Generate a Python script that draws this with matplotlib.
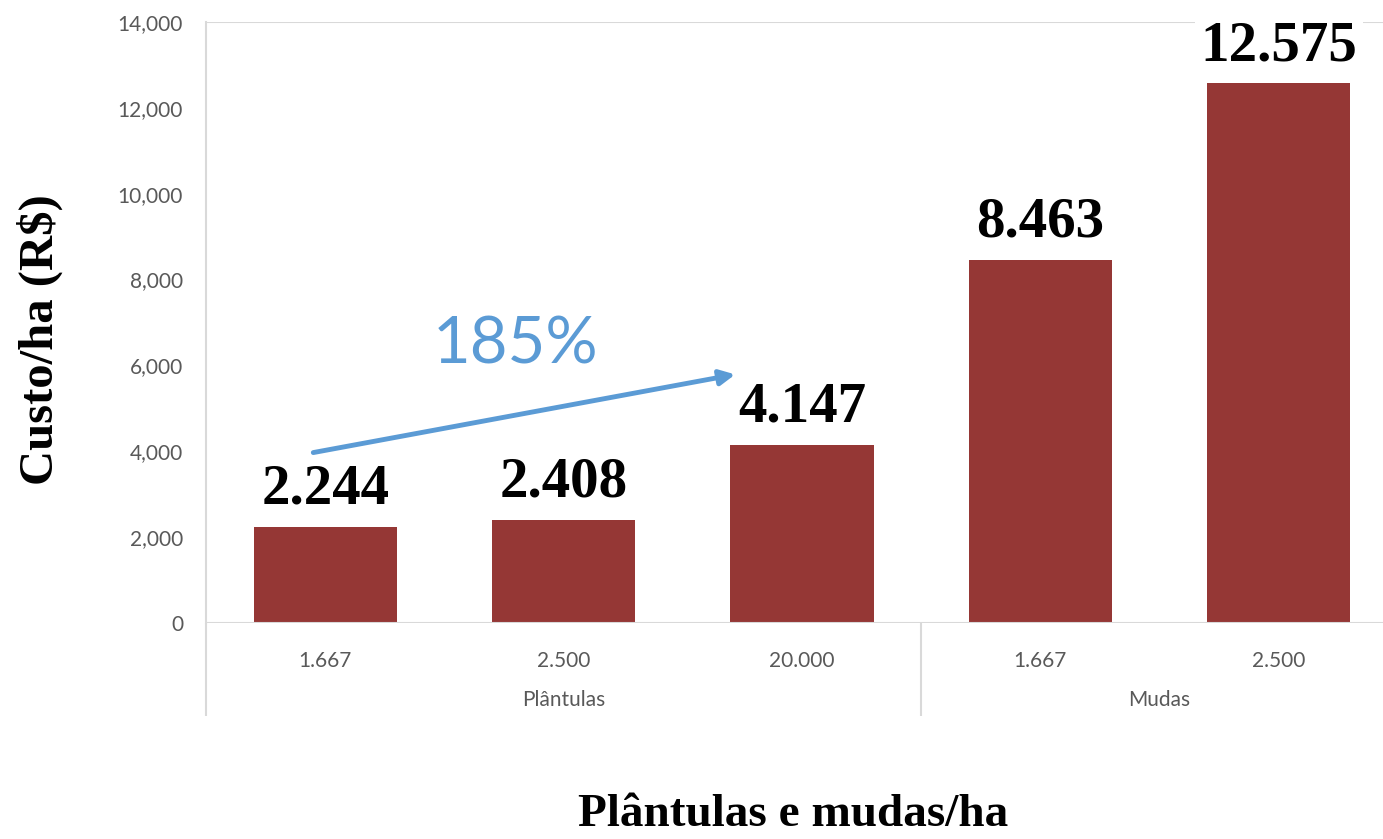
import matplotlib
matplotlib.use("Agg")
import matplotlib.pyplot as plt
from matplotlib.ticker import FuncFormatter
import matplotlib.transforms as mtransforms

# ---- data ----
categories = ["1.667", "2.500", "20.000", "1.667", "2.500"]
groups = ["Plântulas", "Mudas"]
group_sizes = [3, 2]
values = [2244, 2408, 4147, 8463, 12575]
y_ticks = [0, 2000, 4000, 6000, 8000, 10000, 12000, 14000]
annotation_text = "185%"

bar_color = "#953735"
tick_color = "#595959"
grid_color = "#D9D9D9"
arrow_color = "#5B9BD5"
sans = ["Lato", "DejaVu Sans"]
serif = ["Liberation Serif", "DejaVu Serif"]

W, H = 1383, 839
fig = plt.figure(figsize=(W / 100, H / 100), dpi=100)
left_px, right_px, top_px, bottom_px = 206, 1398, 22, 623
ax = fig.add_axes([left_px / W, 1 - bottom_px / H,
                   (right_px - left_px) / W, (bottom_px - top_px) / H])

x = list(range(len(values)))
ax.bar(x, values, width=0.6, color=bar_color, zorder=2)
ax.set_xlim(-0.5, len(values) - 0.5)
ax.set_ylim(y_ticks[0], y_ticks[-1])

# spines / grid
for s in ["top", "right", "bottom"]:
    ax.spines[s].set_visible(False)
ax.spines["left"].set_color(grid_color)
ax.spines["left"].set_linewidth(1.5)
ax.axhline(y_ticks[-1], color=grid_color, lw=1.5, zorder=1)
ax.axhline(0, color=grid_color, lw=1.5, zorder=3)

ax.set_yticks(y_ticks)
ax.yaxis.set_major_formatter(FuncFormatter(lambda v, p: f"{int(v):,}"))
ax.tick_params(axis="y", length=0, pad=16.5, labelsize=15, labelcolor=tick_color)
for lab in ax.get_yticklabels():
    lab.set_family(sans)

ax.set_xticks(x)
ax.set_xticklabels(categories)
ax.tick_params(axis="x", length=0, pad=20, labelsize=15, labelcolor=tick_color)
for lab in ax.get_xticklabels():
    lab.set_family(sans)

# group labels and separators
trans = mtransforms.blended_transform_factory(ax.transData, ax.transAxes)
depth = 93 / (bottom_px - top_px)
start = 0
boundaries = [-0.5]
for g, n in zip(groups, group_sizes):
    center = start + (n - 1) / 2
    ax.text(center, -0.128, g, transform=trans, ha="center", va="center",
            fontsize=15, color=tick_color, family=sans)
    start += n
    boundaries.append(start - 0.5)
for b in boundaries[:-1]:
    ax.plot([b, b], [0, -depth], transform=trans, color=grid_color, lw=1.5,
            clip_on=False, solid_capstyle="butt")

# value labels
for xi, v in zip(x, values):
    lbl = f"{v:,}".replace(",", ".")
    ax.annotate(lbl, (xi, v), xytext=(0, 8), textcoords="offset points",
                ha="center", va="bottom", fontsize=41, fontweight="bold",
                family=serif, color="black", zorder=4,
                bbox=dict(boxstyle="square,pad=0.1", fc="white", ec="none"))

# arrow annotation
ax.annotate("", xy=(1.72, 5790), xytext=(-0.05, 3970),
            arrowprops=dict(arrowstyle="-|>,head_length=0.9,head_width=0.45",
                            color=arrow_color, lw=3.5, shrinkA=0, shrinkB=0),
            zorder=5)
ax.text(0.80, 6470, annotation_text, ha="center", va="center", fontsize=47,
        color=arrow_color, family=sans)

# axis titles
fig.text(40 / W, 1 - 340 / H, "Custo/ha (R$)", rotation=90, ha="center",
         va="center", fontsize=35, fontweight="bold", family=serif)
fig.text(793 / W, 1 - 815 / H, "Plântulas e mudas/ha", ha="center",
         va="center", fontsize=34, fontweight="bold", family=serif)

fig.savefig("out.png", dpi=100)
